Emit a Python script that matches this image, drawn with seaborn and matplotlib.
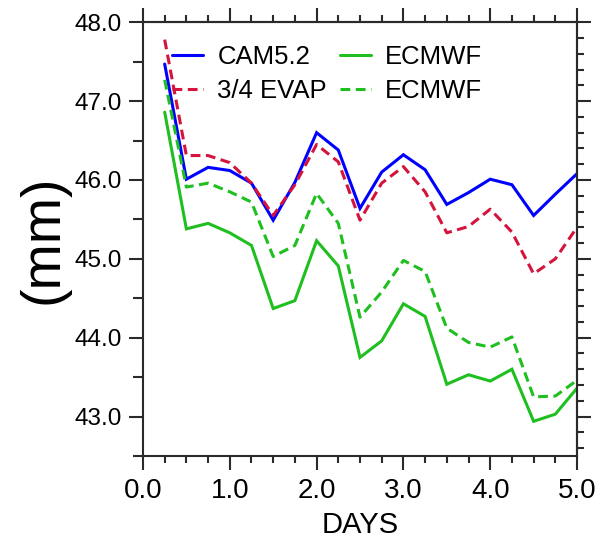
import matplotlib
matplotlib.use("Agg")
import matplotlib.pyplot as plt
from matplotlib.ticker import MultipleLocator, FormatStrFormatter
import seaborn as sns
import pandas as pd

# Forecast lead time (days)
days = [0.25, 0.5, 0.75, 1.0, 1.25, 1.5, 1.75, 2.0, 2.25, 2.5,
        2.75, 3.0, 3.25, 3.5, 3.75, 4.0, 4.25, 4.5, 4.75, 5.0]

# Column water (mm) for each run
cam52 = [47.47, 46.01, 46.16, 46.12, 45.96, 45.49, 45.97, 46.60, 46.38, 45.64,
         46.10, 46.32, 46.13, 45.69, 45.84, 46.01, 45.94, 45.55, 45.82, 46.08]
evap34 = [47.78, 46.31, 46.31, 46.22, 45.96, 45.55, 45.94, 46.45, 46.23, 45.49,
          45.96, 46.17, 45.85, 45.33, 45.41, 45.63, 45.34, 44.81, 45.00, 45.40]
ecmwf_a = [46.86, 45.38, 45.45, 45.33, 45.17, 44.37, 44.47, 45.23, 44.91, 43.75,
           43.96, 44.43, 44.27, 43.41, 43.53, 43.45, 43.60, 42.94, 43.03, 43.36]
ecmwf_b = [47.27, 45.91, 45.96, 45.85, 45.72, 45.03, 45.17, 45.83, 45.45, 44.26,
           44.58, 44.98, 44.84, 44.12, 43.94, 43.88, 44.01, 43.25, 43.26, 43.46]

series_labels = ["CAM5.2", "3/4 EVAP", "ECMWF", "ECMWF"]
series_values = [cam52, evap34, ecmwf_a, ecmwf_b]
series_colors = ["#0000ff", "#d4143c", "#1fbf1f", "#1fbf1f"]
series_dashed = [False, True, False, True]

x_ticks = [0.0, 1.0, 2.0, 3.0, 4.0, 5.0]
y_ticks = [43.0, 44.0, 45.0, 46.0, 47.0, 48.0]

sns.set_style("ticks")
plt.rcParams["font.family"] = ["Liberation Sans", "DejaVu Sans"]
plt.rcParams["text.color"] = "black"
plt.rcParams["axes.labelcolor"] = "black"
plt.rcParams["xtick.labelcolor"] = "black"
plt.rcParams["ytick.labelcolor"] = "black"

fig = plt.figure(figsize=(6.02, 5.42), dpi=100)
ax = fig.add_axes([0.2375, 0.1587, 0.721, 0.8002])

handles = []
for lab, vals, col, dashed in zip(series_labels, series_values,
                                  series_colors, series_dashed):
    df = pd.DataFrame({"days": days, "mm": vals})
    sns.lineplot(data=df, x="days", y="mm", ax=ax, color=col, lw=2.2,
                 legend=False)
    line = ax.lines[-1]
    if dashed:
        line.set_dashes((3.2, 1.8))
    line.set_solid_joinstyle("miter")
    line.set_label(lab)
    handles.append(line)

ax.set_xlim(0.0, 5.0)
ax.set_ylim(42.5, 48.0)

ax.set_xticks(x_ticks)
ax.set_yticks(y_ticks)
ax.xaxis.set_major_formatter(FormatStrFormatter("%.1f"))
ax.yaxis.set_major_formatter(FormatStrFormatter("%.1f"))
ax.xaxis.set_minor_locator(MultipleLocator(0.25))
ax.yaxis.set_minor_locator(MultipleLocator(0.5))

axis_col = "#2a2a2a"
for sp in ax.spines.values():
    sp.set_linewidth(1.5)
    sp.set_color(axis_col)
    sp.set_visible(True)

ax.tick_params(axis="x", which="major", direction="out", length=10, width=1.5,
               labelsize=20, pad=6, color=axis_col)
ax.tick_params(axis="x", which="minor", direction="out", length=5, width=1.5,
               color=axis_col)
ax.tick_params(axis="y", which="major", direction="out", length=10, width=1.5,
               labelsize=17.5, pad=5, color=axis_col)
ax.tick_params(axis="y", which="minor", direction="out", length=7, width=1.5,
               color=axis_col)

# Mirror axes: top with quarter-day ticks, right with 0.2 mm ticks
top = ax.secondary_xaxis("top")
top.set_xticks(x_ticks)
top.xaxis.set_minor_locator(MultipleLocator(0.25))
top.tick_params(which="major", direction="out", length=10, width=1.5,
                labeltop=False, color=axis_col)
top.tick_params(which="minor", direction="out", length=5, width=1.5,
                color=axis_col)
top.spines["top"].set_linewidth(1.5)
top.spines["top"].set_color(axis_col)

right = ax.secondary_yaxis("right")
right.set_yticks(y_ticks)
right.yaxis.set_minor_locator(MultipleLocator(0.2))
right.tick_params(which="major", direction="out", length=10, width=1.5,
                  labelright=False, color=axis_col)
right.tick_params(which="minor", direction="out", length=5, width=1.5,
                  color=axis_col)
right.spines["right"].set_linewidth(1.5)
right.spines["right"].set_color(axis_col)

ax.set_xlabel("DAYS", fontsize=21, labelpad=5)
ax.set_ylabel("(mm)", fontsize=40)
ax.yaxis.set_label_coords(-0.17, 0.5)

ax.legend(handles=handles, labels=series_labels, ncol=2, frameon=False,
          loc="upper left", bbox_to_anchor=(0.068, 0.948), borderaxespad=0,
          borderpad=0, fontsize=18.5, handlelength=1.2, handletextpad=0.55,
          columnspacing=0.5, labelspacing=0.38)

fig.savefig("out.png", dpi=100)
